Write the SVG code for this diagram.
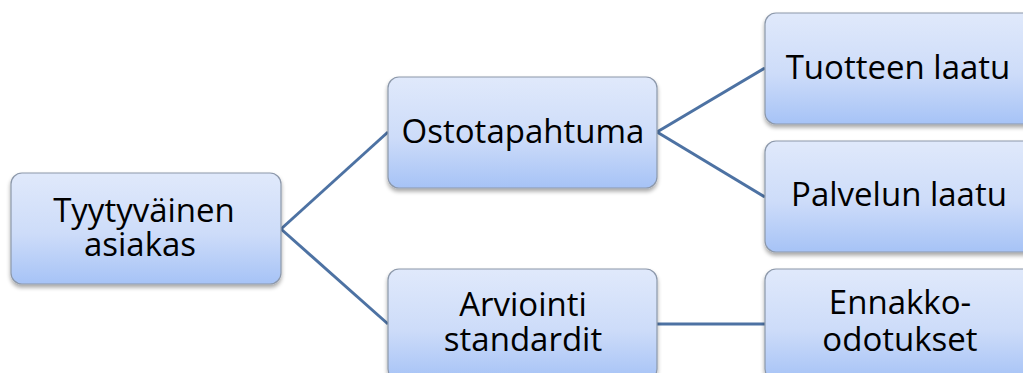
<svg xmlns="http://www.w3.org/2000/svg" width="1023" height="373" viewBox="0 0 1023 373">
<defs>
<linearGradient id="g" x1="0" y1="0" x2="0" y2="1">
<stop offset="0" stop-color="#e0e9fb"/>
<stop offset="0.55" stop-color="#cddcf9"/>
<stop offset="1" stop-color="#a6c3f6"/>
</linearGradient>
<filter id="sh" x="-10%" y="-10%" width="120%" height="130%">
<feGaussianBlur in="SourceAlpha" stdDeviation="2"/>
<feOffset dx="0" dy="3"/>
<feComponentTransfer><feFuncA type="linear" slope="0.35"/></feComponentTransfer>
<feMerge><feMergeNode/><feMergeNode in="SourceGraphic"/></feMerge>
</filter>
</defs>
<style>
.box{fill:url(#g);stroke:#8c98aa;stroke-width:1.2;filter:url(#sh)}
.t{font-family:"Open Sans","Liberation Sans",sans-serif;font-size:33px;fill:#000;text-anchor:middle}
.c{stroke:#4d72a3;stroke-width:3;fill:none}
</style>
<rect width="1023" height="373" fill="#fff"/>
<g id="connectors">
<line class="c" x1="281" y1="229" x2="388" y2="132"/>
<line class="c" x1="281" y1="229" x2="388" y2="324"/>
<line class="c" x1="657" y1="132" x2="765" y2="68"/>
<line class="c" x1="657" y1="132" x2="765" y2="197"/>
<line class="c" x1="657" y1="324" x2="765" y2="324"/>
</g>
<g id="n1"><rect class="box" x="11" y="173" width="270" height="111" rx="11"/>
<text class="t" x="144" y="222">Tyytyväinen</text><text class="t" x="140" y="256">asiakas</text></g>
<g id="n2"><rect class="box" x="388" y="77" width="269" height="111" rx="11"/>
<text class="t" x="523" y="143">Ostotapahtuma</text></g>
<g id="n3"><rect class="box" x="388" y="269" width="269" height="111" rx="11"/>
<text class="t" x="523" y="316">Arviointi</text><text class="t" x="523" y="351">standardit</text></g>
<g id="n4"><rect class="box" x="765" y="13" width="270" height="111" rx="11"/>
<text class="t" x="898" y="79">Tuotteen laatu</text></g>
<g id="n5"><rect class="box" x="765" y="141" width="270" height="111" rx="11"/>
<text class="t" x="899" y="206">Palvelun laatu</text></g>
<g id="n6"><rect class="box" x="765" y="269" width="270" height="111" rx="11"/>
<text class="t" x="900" y="314">Ennakko-</text><text class="t" x="900" y="351">odotukset</text></g>
</svg>
